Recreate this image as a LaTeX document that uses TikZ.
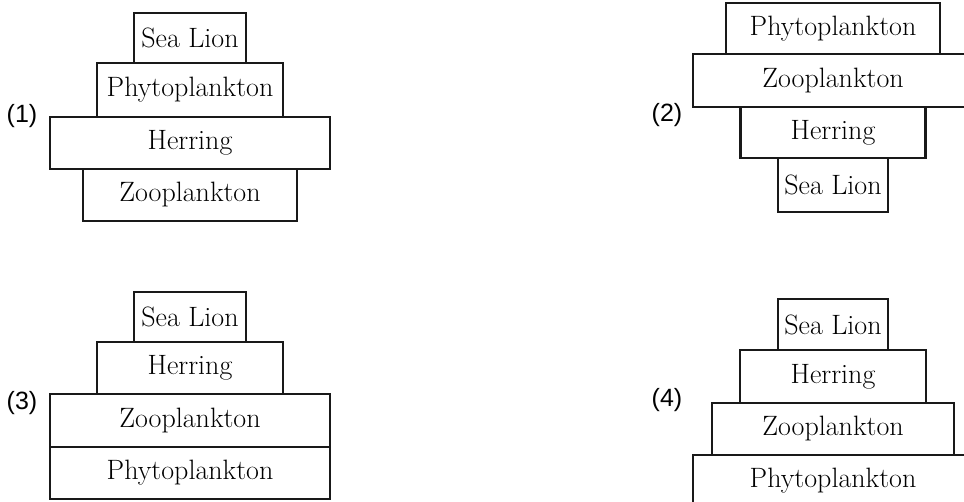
\documentclass[tikz,border=0pt]{standalone}
\usepackage{fontspec}
\newfontfamily\labelfont{Liberation Sans}
\begin{document}
\begin{tikzpicture}[x=1pt,y=-1pt,
  tier/.style={draw=black!90, line width=2.4pt, fill=white, inner sep=0pt,
    font=\fontsize{28}{32}\selectfont},
  optlabel/.style={inner sep=0pt, font=\labelfont\fontsize{25}{30}\selectfont}]
\useasboundingbox (0,0) rectangle (964,502);
\clip (0,0) rectangle (964,502);

% option (1)
\node[tier, minimum width=280pt, minimum height=52pt] (h1) at (190,143) {Herring};
\node[tier, minimum width=214pt, minimum height=52pt] (z1) at (190,195) {Zooplankton};
\node[tier, minimum width=186pt, minimum height=54pt] (p1) at (190,90) {Phytoplankton};
\node[tier, minimum width=112pt, minimum height=50pt] (s1) at (190,38) {Sea Lion};
\node[optlabel] (l1) at (22,116) {(1)};

% option (2)
\node[tier, minimum width=280pt, minimum height=53pt] (z2) at (833,80.5) {Zooplankton};
\node[tier, minimum width=214pt, minimum height=51pt] (p2) at (833,28.5) {Phytoplankton};
\node[tier, minimum width=185pt, minimum height=51pt] (h2) at (833,132.5) {Herring};
\node[tier, minimum width=110pt, minimum height=54pt] (s2) at (833,185) {Sea Lion};
\node[optlabel] (l2) at (667,115) {(2)};

% option (3)
\node[tier, minimum width=280pt, minimum height=52pt] (ph3) at (190,473) {Phytoplankton};
\node[tier, minimum width=280pt, minimum height=53pt] (z3) at (190,420.5) {Zooplankton};
\node[tier, minimum width=186pt, minimum height=52pt] (h3) at (190,368) {Herring};
\node[tier, minimum width=112pt, minimum height=50pt] (s3) at (190,317) {Sea Lion};
\node[optlabel] (l3) at (22,403) {(3)};

% option (4)
\node[tier, minimum width=280pt, minimum height=52pt] (ph4) at (833,481) {Phytoplankton};
\node[tier, minimum width=242pt, minimum height=52pt] (z4) at (833,429) {Zooplankton};
\node[tier, minimum width=186pt, minimum height=53pt] (h4) at (833,376.5) {Herring};
\node[tier, minimum width=110pt, minimum height=51pt] (s4) at (833,324.5) {Sea Lion};
\node[optlabel] (l4) at (667,400) {(4)};
\end{tikzpicture}
\end{document}
